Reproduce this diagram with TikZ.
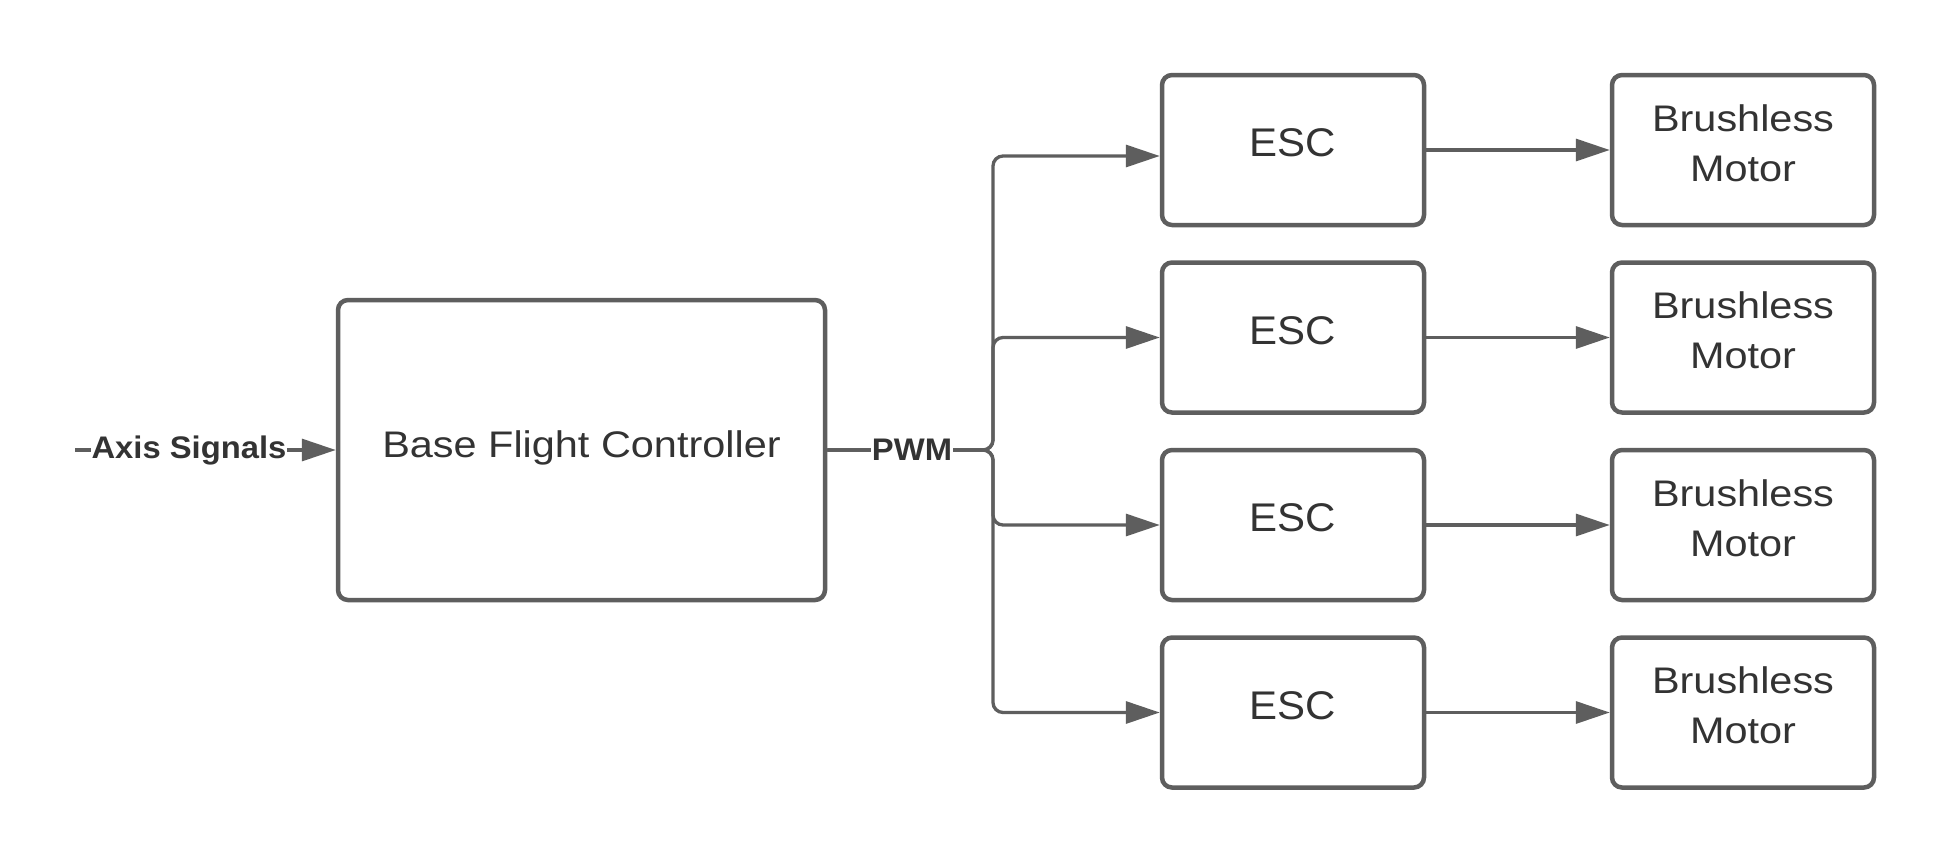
\documentclass[tikz,border=0pt]{standalone}
\usepackage{fontspec}
\setmainfont{Liberation Sans}
\newfontfamily\fwide{Liberation Sans}[FakeStretch=1.12]
\newfontfamily\fmid{Liberation Sans}[FakeStretch=1.05]
\usetikzlibrary{arrows.meta}
\definecolor{edge}{HTML}{5E5E5E}
\definecolor{ink}{HTML}{333333}
\begin{document}
\begin{tikzpicture}[x=0.5pt,y=-0.5pt,
  box/.style={draw=edge, line width=2.25pt, rounded corners=5pt, fill=white,
    text=ink, align=center, inner sep=0pt},
  bigbox/.style={box, minimum width=243.5pt, minimum height=150pt,
    text depth=6pt, font=\fwide\fontsize{18.5}{25}\selectfont},
  escbox/.style={box, minimum width=131pt, minimum height=75pt,
    text depth=7pt, font=\fmid\fontsize{20}{24}\selectfont},
  motbox/.style={box, minimum width=131pt, minimum height=75pt,
    text depth=7pt, font=\fwide\fontsize{18.5}{25}\selectfont},
  conn/.style={draw=edge, line width=1.65pt, rounded corners=5pt,
    -{Triangle[length=17pt,width=11pt]}},
  lbl/.style={fill=white, text=ink, inner xsep=0.5pt, inner ysep=2pt,
    font=\fmid\bfseries\fontsize{15.6}{18}\selectfont}]
\fill[white] (0,0) rectangle (1950,863);
\useasboundingbox (0,0) rectangle (1950,863);

% main blocks
\node[bigbox] (bfc) at (581.5,450) {Base Flight Controller};

\node[escbox] (esc1) at (1293,150)   {ESC};
\node[escbox] (esc2) at (1293,337.5) {ESC};
\node[escbox] (esc3) at (1293,525)   {ESC};
\node[escbox] (esc4) at (1293,712.5) {ESC};

\node[motbox] (mot1) at (1743,150)   {Brushless\\Motor};
\node[motbox] (mot2) at (1743,337.5) {Brushless\\Motor};
\node[motbox] (mot3) at (1743,525)   {Brushless\\Motor};
\node[motbox] (mot4) at (1743,712.5) {Brushless\\Motor};

% input
\coordinate (src) at (75,450);
\draw[conn] (src) -- (bfc.west);
\node[lbl] (axis) at (189,450) {Axis Signals};

% PWM distribution
\coordinate (j) at (993,450);
\draw[conn] (bfc.east) -- (j) |- ([yshift=-3pt]esc1.west);
\draw[conn] (bfc.east) -- (j) |- (esc2.west);
\draw[conn] (bfc.east) -- (j) |- (esc3.west);
\draw[conn] (bfc.east) -- (j) |- (esc4.west);
\node[lbl] (pwm) at (912,450) {PWM};

% ESC to motors
\draw[conn] (esc1) -- (mot1);
\draw[conn] (esc2) -- (mot2);
\draw[conn] (esc3) -- (mot3);
\draw[conn] (esc4) -- (mot4);
\end{tikzpicture}
\end{document}
